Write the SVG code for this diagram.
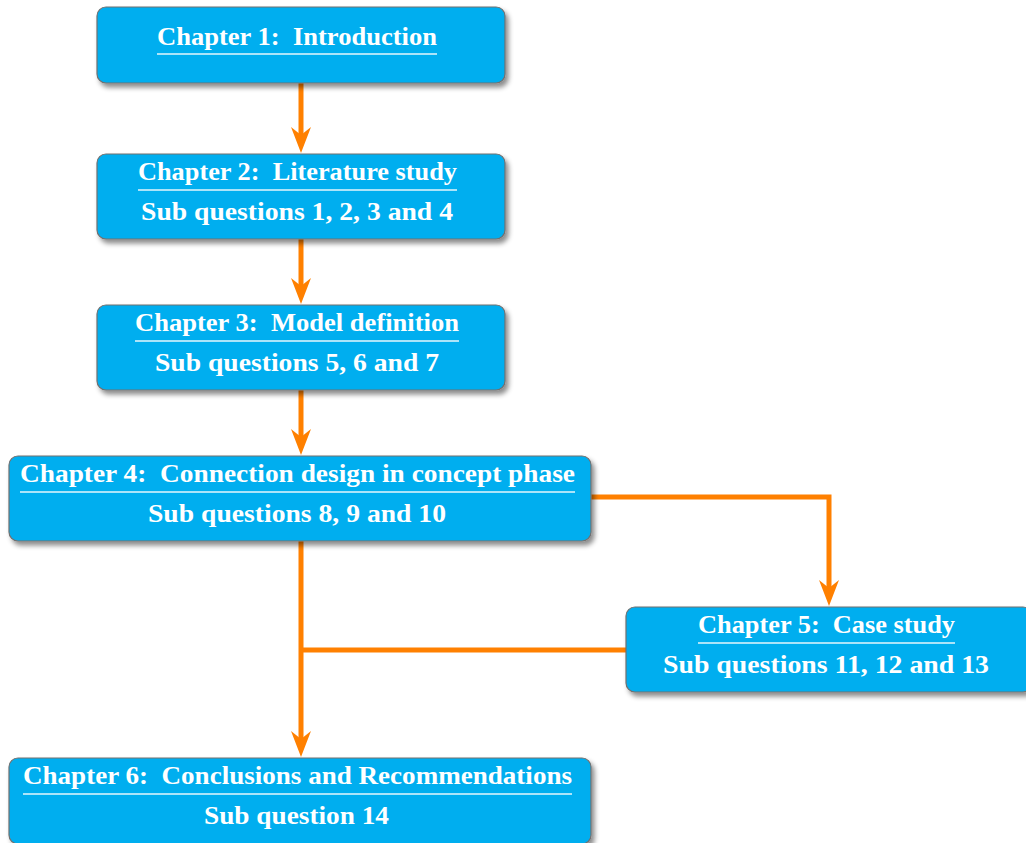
<svg xmlns="http://www.w3.org/2000/svg" width="1026" height="843" viewBox="0 0 1026 843">
<defs>
<filter id="sh" x="-10%" y="-20%" width="130%" height="160%">
<feDropShadow dx="3" dy="4" stdDeviation="2.5" flood-color="#000" flood-opacity="0.45"/>
</filter>
<marker id="ah" markerUnits="userSpaceOnUse" orient="auto" refX="0" refY="0" markerWidth="40" markerHeight="40" overflow="visible">
<path d="M12,0 L-14,-10 L-6,0 L-14,10 Z" fill="#FF8000"/>
</marker>
</defs>
<style>
.box{fill:#00AEEF;stroke:#707070;stroke-width:1.2;filter:url(#sh)}
.t{font-family:"Liberation Serif","Times New Roman",serif;font-weight:bold;font-size:25px;fill:#fff;text-anchor:middle}
.ul{stroke:#E6F6FD;stroke-width:1.6}
.c{fill:none;stroke:#FF8000;stroke-width:5}
</style>
<g id="connectors">
<path class="c" d="M301,83 V141" marker-end="url(#ah)"/>
<path class="c" d="M301,239 V292" marker-end="url(#ah)"/>
<path class="c" d="M301,390 V443" marker-end="url(#ah)"/>
<path class="c" d="M591,497 H829 V594" marker-end="url(#ah)"/>
<path class="c" d="M301,541 V745" marker-end="url(#ah)"/>
<path class="c" d="M626,650 H301"/>
</g>
<g id="ch1">
<rect class="box" x="97" y="7" width="408" height="76" rx="9"/>
<text class="t" x="297" y="45" textLength="280" lengthAdjust="spacingAndGlyphs">Chapter 1:&#160; Introduction</text>
<line class="ul" x1="157" y1="54" x2="437" y2="54"/>
</g>
<g id="ch2">
<rect class="box" x="97" y="154" width="408" height="85" rx="9"/>
<text class="t" x="297.5" y="180" textLength="319" lengthAdjust="spacingAndGlyphs">Chapter 2:&#160; Literature study</text>
<line class="ul" x1="138" y1="190" x2="457" y2="190"/>
<text class="t" x="297" y="220" textLength="312" lengthAdjust="spacingAndGlyphs">Sub questions 1, 2, 3 and 4</text>
</g>
<g id="ch3">
<rect class="box" x="97" y="305" width="408" height="85" rx="9"/>
<text class="t" x="297" y="331" textLength="324" lengthAdjust="spacingAndGlyphs">Chapter 3:&#160; Model definition</text>
<line class="ul" x1="135" y1="341" x2="459" y2="341"/>
<text class="t" x="297" y="371" textLength="284" lengthAdjust="spacingAndGlyphs">Sub questions 5, 6 and 7</text>
</g>
<g id="ch4">
<rect class="box" x="9" y="456" width="582" height="85" rx="9"/>
<text class="t" x="297.5" y="482" textLength="555" lengthAdjust="spacingAndGlyphs">Chapter 4:&#160; Connection design in concept phase</text>
<line class="ul" x1="20" y1="492" x2="575" y2="492"/>
<text class="t" x="297" y="522" textLength="298" lengthAdjust="spacingAndGlyphs">Sub questions 8, 9 and 10</text>
</g>
<g id="ch5">
<rect class="box" x="626" y="607" width="406" height="85" rx="9"/>
<text class="t" x="826.5" y="633" textLength="257" lengthAdjust="spacingAndGlyphs">Chapter 5:&#160; Case study</text>
<line class="ul" x1="698" y1="643" x2="955" y2="643"/>
<text class="t" x="826" y="673" textLength="326" lengthAdjust="spacingAndGlyphs">Sub questions 11, 12 and 13</text>
</g>
<g id="ch6">
<rect class="box" x="9" y="758" width="582" height="86" rx="9"/>
<text class="t" x="297.5" y="784" textLength="549" lengthAdjust="spacingAndGlyphs">Chapter 6:&#160; Conclusions and Recommendations</text>
<line class="ul" x1="23" y1="794" x2="572" y2="794"/>
<text class="t" x="296.5" y="824" textLength="185" lengthAdjust="spacingAndGlyphs">Sub question 14</text>
</g>
</svg>
